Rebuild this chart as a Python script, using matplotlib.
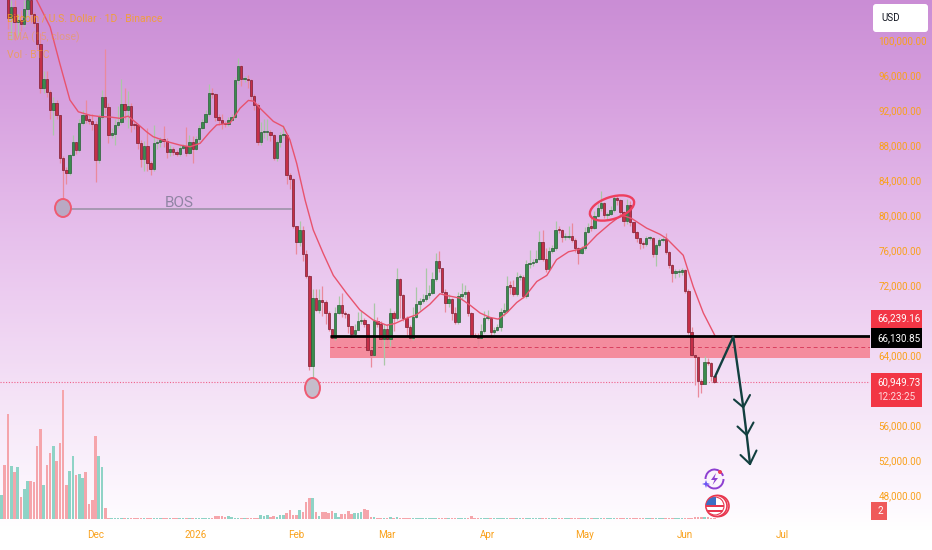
import matplotlib
matplotlib.use('Agg')
import matplotlib.pyplot as plt
import numpy as np
from matplotlib import font_manager
from matplotlib.lines import Line2D
from matplotlib.patches import Circle, Ellipse, FancyBboxPatch, Polygon, Rectangle, Arc
from matplotlib.transforms import Affine2D

# prices are in thousands of USD, days are counted from 1 Dec 2025
first_day = -29
first_open = 105.5

closes = [
    107.0, 106.0, 102.5, 103.8, 102.1, 102.3, 101.8, 103.5, 104.6, 103.0, 101.9, 99.6, 94.5, 95.5, 94.1, 92.0,
    92.85, 91.4, 86.5, 85.1, 84.8, 86.9, 88.3, 87.4, 90.5, 91.4, 90.9, 90.8, 90.4, 86.3, 91.2, 93.45,
    92.4, 89.2, 89.3, 90.3, 90.65, 92.7, 92.0, 92.5, 90.3, 90.25, 88.2, 86.4, 87.9, 86.0, 85.3, 88.2,
    88.4, 88.6, 88.5, 87.15, 87.6, 87.2, 87.0, 87.7, 87.9, 87.1, 88.4, 87.6, 88.65, 89.9, 90.65, 91.55,
    93.9, 93.8, 91.25, 90.9, 90.5, 90.4, 90.85, 91.25, 95.4, 97.0, 95.5, 95.6, 95.4, 93.6, 92.6, 88.3,
    89.45, 89.5, 89.5, 89.1, 86.55, 88.3, 89.15, 89.2, 84.6, 84.1, 78.7,
    76.95, 78.3, 75.6, 73.0, 62.75, 70.5, 69.2, 70.3, 70.1, 68.75, 67.0, 66.0, 68.75, 69.7, 68.75, 68.7,
    67.3, 66.35, 66.85, 67.9, 68.0, 67.5, 64.6, 64.0, 67.9, 67.6, 65.8, 66.95, 65.8, 68.85, 68.2, 72.7,
    70.9, 68.2, 67.25, 65.9, 68.4, 69.8, 70.2, 70.45, 70.85, 71.1, 72.7, 74.8, 73.9, 71.25, 69.9, 70.4,
    68.85, 67.8, 70.8, 71.0, 71.25, 68.75, 66.3, 66.1, 65.9, 66.7, 68.2, 68.2, 66.65, 66.85, 67.25, 68.95,
    69.0, 71.9, 71.8, 71.0, 72.9, 72.95, 70.8, 74.4, 74.5, 74.65, 75.0, 76.95, 75.0, 73.8, 75.9, 76.2,
    78.3, 78.25, 77.45, 77.5, 77.6, 77.15, 76.2, 75.7, 76.2, 78.1, 78.6, 78.55, 79.9, 80.85, 81.4, 80.0,
    80.1, 80.6, 82.0, 81.7, 80.4, 79.35, 81.15, 79.15, 78.1, 77.35, 76.85, 76.7, 77.35, 77.4, 75.5, 76.6,
    77.1, 77.25, 75.75, 74.3, 73.4, 73.45, 73.5, 73.7, 71.35, 66.65, 64.0, 63.8, 61.0, 60.7, 63.25, 63.05,
    61.6, 60.95,
]
highs = [
    107.5, 107.5, 106.0, 104.6, 104.6, 103.0, 103.4, 104.6, 105.0, 104.8, 103.2, 102.0, 100.8, 96.5, 96.5, 94.3,
    93.5, 93.2, 91.4, 86.7, 85.5, 87.0, 89.2, 88.3, 91.0, 92.0, 93.2, 91.6, 91.5, 90.8, 91.5, 94.3,
    99.0, 92.8, 90.0, 91.0, 92.5, 95.6, 94.5, 94.2, 92.8, 90.6, 90.3, 88.6, 88.5, 90.0, 86.2, 90.3,
    88.7, 88.9, 90.2, 88.8, 88.0, 87.8, 87.4, 88.0, 88.1, 90.1, 89.2, 89.0, 89.0, 90.3, 91.0, 92.0,
    95.0, 94.5, 93.9, 91.5, 91.5, 90.7, 91.2, 91.5, 95.8, 98.0, 97.2, 95.9, 96.0, 95.5, 93.8, 92.8,
    90.6, 91.0, 91.0, 89.7, 89.3, 88.6, 89.5, 90.3, 89.3, 84.8, 84.2,
    78.8, 79.3, 78.8, 76.0, 73.2, 71.5, 71.5, 71.6, 71.9, 70.3, 69.0, 67.0, 69.5, 70.8, 71.1, 69.0,
    68.8, 67.3, 67.5, 68.9, 69.0, 68.2, 67.6, 64.8, 70.0, 68.3, 67.9, 67.5, 67.5, 69.4, 69.0, 73.9,
    72.8, 71.0, 68.5, 67.4, 69.5, 71.8, 70.5, 71.0, 74.0, 72.0, 73.5, 75.7, 75.9, 74.0, 71.5, 71.0,
    70.5, 69.5, 71.2, 72.2, 72.0, 71.4, 68.9, 66.5, 66.5, 67.6, 69.0, 69.1, 68.4, 67.2, 67.6, 69.4,
    70.0, 73.0, 72.5, 72.6, 73.5, 73.3, 73.2, 74.9, 76.0, 75.0, 76.0, 78.2, 78.3, 76.2, 76.3, 76.6,
    79.3, 78.7, 78.4, 78.0, 78.7, 79.1, 77.4, 76.4, 76.5, 78.6, 79.1, 79.7, 80.5, 81.3, 82.8, 81.5,
    80.4, 81.0, 82.3, 82.2, 81.8, 80.5, 81.8, 81.6, 79.2, 78.2, 77.4, 77.0, 77.6, 77.6, 77.5, 76.8,
    77.4, 77.5, 78.0, 75.9, 74.4, 73.8, 73.8, 73.9, 73.8, 71.5, 67.2, 64.2, 63.9, 61.2, 63.9, 63.6,
    63.2, 61.5,
]
lows = [
    105.6, 105.5, 101.3, 100.0, 100.0, 100.5, 101.0, 101.5, 102.5, 102.0, 101.5, 99.0, 94.0, 94.0, 93.5, 91.0,
    89.1, 91.0, 86.0, 80.8, 83.6, 84.6, 86.8, 87.0, 87.2, 90.3, 90.5, 90.4, 89.7, 83.8, 86.0, 91.0,
    91.5, 88.2, 88.8, 88.0, 90.0, 90.4, 91.0, 90.0, 89.5, 89.8, 87.5, 85.5, 85.0, 85.0, 84.6, 85.0,
    87.6, 87.8, 87.8, 86.5, 86.8, 86.9, 86.7, 86.8, 87.5, 86.8, 87.0, 86.0, 87.4, 88.4, 89.8, 90.5,
    91.3, 93.4, 90.7, 90.3, 89.8, 90.1, 90.2, 90.7, 91.0, 95.0, 94.8, 95.2, 94.5, 93.2, 92.0, 88.0,
    88.0, 88.8, 88.6, 88.5, 86.3, 86.2, 87.8, 88.8, 83.5, 83.0, 78.5,
    75.6, 76.5, 74.7, 72.8, 62.3, 60.0, 69.0, 68.8, 68.5, 67.5, 66.8, 65.9, 65.7, 68.7, 68.3, 68.2,
    66.5, 66.0, 65.9, 67.0, 67.5, 67.2, 64.3, 62.6, 63.9, 67.2, 65.0, 62.9, 65.0, 65.0, 66.8, 68.0,
    68.2, 67.9, 66.2, 65.6, 65.7, 68.2, 69.2, 70.0, 70.2, 70.5, 71.0, 72.5, 73.5, 71.0, 68.9, 69.5,
    68.0, 67.5, 67.6, 70.3, 70.5, 68.5, 66.0, 65.8, 65.0, 65.9, 66.5, 68.0, 65.8, 66.4, 66.7, 66.8,
    68.5, 68.9, 71.0, 70.7, 70.8, 72.6, 70.5, 70.5, 74.0, 74.2, 74.5, 74.9, 74.7, 73.5, 73.7, 75.7,
    76.0, 77.9, 76.9, 77.2, 77.3, 76.9, 75.8, 74.4, 75.5, 76.0, 78.0, 78.2, 78.4, 79.8, 80.5, 79.7,
    79.5, 80.0, 80.4, 81.2, 80.0, 78.8, 79.0, 78.8, 77.9, 76.9, 76.1, 76.2, 76.5, 77.2, 75.2, 74.2,
    76.4, 76.9, 75.5, 74.0, 72.4, 72.8, 72.9, 73.2, 71.1, 66.4, 63.9, 60.6, 59.2, 59.6, 60.8, 62.8,
    61.0, 60.8,
]
volumes = [
    24, 54, 105, 53, 47, 52, 22, 30, 38, 38, 37, 73, 90, 34, 54, 66, 73, 58, 76, 129, 34, 48, 63, 44, 45, 41, 47,
    15, 19, 83, 63, 52, 11,
    1, 1, 1, 1, 1, 1, 1, 1, 1, 1, 1, 1, 1, 1, 1, 1, 1, 1, 1, 1, 1, 1, 1, 1, 1, 1, 1, 1, 1, 1, 1.5, 1.5, 1.5,
    3.5, 3, 3, 2, 3, 2, 1.5, 1, 1, 1, 1, 1, 1, 1.5,
    4.5, 3, 4, 2.5, 3.5, 2.5, 4, 4, 6, 9, 4.5, 4.5, 9, 7.5, 17, 21, 21,
    7, 3.5, 7, 7, 6, 8, 6, 2.5, 5, 5.5, 8, 5, 6, 6.5, 7, 10, 9, 2, 2,
    1, 1, 1, 1, 2, 1, 2, 1, 1, 1, 1, 1, 1, 1, 1, 1, 1, 1, 1, 1, 1, 1, 1, 1, 1, 1, 1, 1, 1, 3.5, 1, 1, 1, 1, 1,
    1, 1, 1, 1, 1, 1, 1, 1, 1, 1, 1, 1, 1, 1, 1, 1, 1, 1, 1, 1, 1, 1, 1, 1, 1, 1, 1, 1, 1, 1, 1, 1, 1, 1, 1, 1, 1, 1, 1,
    1, 1, 1, 1, 1, 1, 1, 1, 1, 1, 1, 1, 1, 1, 1, 1, 1, 1, 1, 1, 1, 1, 1, 1.5, 2, 2.5, 2.5, 2.5, 2, 1.5, 1.5,
]

ema_days = [
    -18.2, -14, -11, -7.9, -5.3, -1.7, 1.4, 4.5, 7.6, 10.1, 12.7, 15.8, 17.8, 22, 26, 29.2, 32.3, 35.3, 37.4, 41.5,
    44.6, 47.2, 48.9, 50.8, 54.9, 58, 60, 62.1, 64.7, 67.2, 70.3, 73.4, 77.5, 81.6, 85.7, 89.9, 92.4, 96, 99.1,
    103.2, 106.3, 108.4, 112.5, 115.6, 118.7, 121.7, 124.3, 126.9, 130, 132.6, 136.2, 139.3, 142.3, 146, 149.5,
    151.6, 154.7, 158.8, 162.4, 165.5, 170.1, 174.2, 176.3, 181.4, 184.5, 187.6, 191.2,
]
ema_values = [
    104.6, 101.5, 97.3, 93.15, 91.8, 91.4, 91.25, 91.2, 91.05, 91.3, 90.5, 89.5, 88.95, 88.4, 88.0, 87.8, 88.2, 89.5,
    90.3, 90.5, 92.2, 93.1, 93.0, 92.2, 90.7, 90.1, 88.6, 85.9, 81.7, 78.3, 75.6, 73.1, 71.05, 69.15, 68.0, 67.4,
    67.6, 68.2, 68.6, 69.8, 71.0, 70.8, 70.5, 69.7, 68.8, 68.3, 68.1, 68.8, 70.0, 70.7, 72.4, 73.1, 74.9, 75.8, 76.1,
    76.5, 77.7, 79.0, 80.0, 79.6, 78.5, 77.8, 77.3, 75.4, 71.8, 68.8, 66.2,
]

price_ticks = [100, 96, 92, 88, 84, 80, 76, 72, 64, 56, 52, 48]
time_ticks = [0, 31, 62, 90, 121, 151, 182, 212]
time_labels = ['Dec', '2026', 'Feb', 'Mar', 'Apr', 'May', 'Jun', 'Jul']

zone_top = 66.13085
zone_bottom = 63.7
zone_mid = 64.88
zone_start = 72.5
last_price = 60.94973

# narrow face is closest to the chart's text, fall back to a smaller Roboto
installed = {f.name for f in font_manager.fontManager.ttflist}
if 'Liberation Sans Narrow' in installed:
    TEXT_FONT, TEXT_SIZE, LEGEND_SIZE = 'Liberation Sans Narrow', 8.3, 9.2
else:
    TEXT_FONT, TEXT_SIZE, LEGEND_SIZE = 'Roboto', 7.1, 7.5
plt.rcParams['font.family'] = [TEXT_FONT, 'DejaVu Sans']

ORANGE = '#f9a11b'
RED = '#c52f47'
GREEN = '#3a8c4d'

fig = plt.figure(figsize=(9.32, 5.5), dpi=100)
W, H = 932.0, 550.0
px = Affine2D().scale(1, -1).translate(0, H)

# vertical background gradient, pink-purple fading to white
bg = fig.add_axes([0, 0, 1, 1], zorder=0)
bg.axis('off')
stops_y = np.array([0, 100, 200, 300, 400, 500, 530, 550])
stops_rgb = np.array([
    [202, 141, 213], [215, 161, 223], [227, 184, 233], [237, 206, 241],
    [245, 228, 247], [253, 248, 254], [255, 255, 255], [255, 255, 255],
]) / 255.0
rows = np.arange(550)
grad = np.stack([np.interp(rows, stops_y, stops_rgb[:, i]) for i in range(3)], axis=1)[:, None, :]
bg.imshow(grad, aspect='auto', extent=(0, 1, 0, 1))

rect = [0, (H - 519) / H, 870 / W, 519 / H]
ax = fig.add_axes(rect, zorder=2)
ax.patch.set_alpha(0)
x_left = (0 - 95.5) / 3.24
x_right = (870 - 95.5) / 3.24
ax.set_xlim(x_left, x_right)
ax.set_ylim(64 - 164 * 0.1143, 64 + 355 * 0.1143)

# volume pane shares the x scale, heights stay at the bottom
ax_vol = fig.add_axes(rect, zorder=1)
ax_vol.patch.set_alpha(0)
ax_vol.axis('off')
ax_vol.set_xlim(x_left, x_right)
ax_vol.set_ylim(0, 519)

closes_arr = np.array(closes)
opens = np.r_[first_open, closes_arr[:-1]]
days = first_day + np.arange(len(closes))
up = closes_arr >= opens

ax_vol.bar(days, volumes, width=0.8, color=np.where(up, '#8fd3c6', '#f5a5ab'), linewidth=0)

ax.add_patch(Rectangle((zone_start, zone_bottom), x_right - zone_start, zone_top - zone_bottom,
                       facecolor='#f48c9e', edgecolor='none', zorder=1))
ax.hlines(zone_mid, zone_start, x_right, color='#d9405f', lw=0.7, ls=(0, (4, 3)), zorder=1.5)
ax.hlines(last_price, x_left, x_right, color='#f0608a', lw=0.8, ls=(0, (1, 1.5)), zorder=1.5)

ax.vlines(days, lows, highs, colors=np.where(up, '#a9c7a6', '#ea8a9c'), lw=0.9, zorder=2)
bottoms = np.minimum(opens, closes_arr)
heights = np.maximum(np.abs(closes_arr - opens), 0.15)
ax.bar(days, heights, bottom=bottoms, width=0.72, color=np.where(up, GREEN, RED),
       edgecolor=np.where(up, '#2a5f38', '#7c1f33'), linewidth=0.5, zorder=3)

ax.plot(ema_days, ema_values, color='#e8536e', lw=1.0, zorder=4)
ax.hlines(zone_top, zone_start, x_right, color='black', lw=2.0, zorder=5)

# axis text
ax.yaxis.tick_right()
ax.set_yticks(price_ticks)
ax.set_yticklabels([f'{t * 1000:,.2f}' for t in price_ticks], fontsize=TEXT_SIZE, color=ORANGE)
ax.set_xticks(time_ticks)
ax.set_xticklabels(time_labels, fontsize=TEXT_SIZE, color=ORANGE)
ax.tick_params(axis='y', length=0, pad=6)
ax.tick_params(axis='x', length=0, pad=8)
for s in ax.spines.values():
    s.set_visible(False)

# legend block
fig.text(7 / W, 1 - 18 / H, 'Bitcoin / U.S. Dollar · 1D · Binance', fontsize=LEGEND_SIZE, color=ORANGE, alpha=0.8,
         va='center', zorder=6)
fig.text(7 / W, 1 - 37 / H, 'EMA (15, close)', fontsize=LEGEND_SIZE, color=ORANGE, alpha=0.45, va='center', zorder=6)
fig.text(7 / W, 1 - 55 / H, 'Vol · BTC', fontsize=LEGEND_SIZE, color=ORANGE, alpha=0.6, va='center', zorder=6)


def draw(artist):
    artist.set_zorder(6)
    fig.add_artist(artist)


def line(xs, ys, color, lw):
    draw(Line2D(xs, ys, color=color, lw=lw, transform=px, solid_capstyle='round', solid_joinstyle='round'))


# drawings on the chart
line([63, 291], [209, 209], '#a296ae', 1.3)
fig.text(179 / W, 1 - 203 / H, 'BOS', fontsize=11, color='#8f84a3', ha='center', va='center', zorder=6)
draw(Ellipse((63, 208), 16, 18, facecolor='#b9a9c4', edgecolor='#ef5b73', lw=1.4, transform=px))
draw(Ellipse((312.5, 388), 15, 20, facecolor='#c5bccb', edgecolor='#ef5b73', lw=1.4, transform=px))
draw(Ellipse((612, 208), 46, 22, angle=-18, facecolor='none', edgecolor='#ee3f5f', lw=1.7, transform=px))

DARK = '#123f3f'
line([715, 733.3, 743.3, 746.7, 750], [376.7, 336.7, 407.3, 435, 464], DARK, 1.7)
line([734, 743.3, 750], [399.5, 407.3, 395], DARK, 1.5)
line([737.5, 746.7, 753.5], [426.5, 435, 422.5], DARK, 1.5)
line([740.5, 750, 756.5], [455, 464, 450.5], DARK, 1.5)

# price tags and controls
draw(Rectangle((871, 309.5), 51, 18.5, facecolor='#f23645', edgecolor='none', transform=px))
draw(Rectangle((871, 328), 51, 19.5, facecolor='#000000', edgecolor='none', transform=px))
draw(Rectangle((871, 373), 51, 34, facecolor='#f23645', edgecolor='none', transform=px))
draw(Rectangle((871, 502), 16, 18, facecolor='#ef5a5a', edgecolor='none', transform=px))
draw(FancyBboxPatch((873, 4), 55, 28, boxstyle='round,pad=0,rounding_size=3', facecolor='white', edgecolor='none',
                    transform=px))
tags = [
    (877, 318.5, '66,239.16', 'white'), (877, 338, '66,130.85', 'white'),
    (877, 382, '60,949.73', 'white'), (877, 397.5, '12:23:25', '#ffd9dc'),
    (877, 511, '2', 'white'), (881, 18, 'USD', '#131722'),
]
for tx, ty, s, c in tags:
    fig.text(tx / W, 1 - ty / H, s, color=c, fontsize=TEXT_SIZE, va='center', zorder=7)

# small icons at the last bar
PURPLE = '#8d3fd1'
draw(Arc((714.5, 479), 18, 19, theta1=0, theta2=140, color=PURPLE, lw=1.4, transform=px))
draw(Arc((714.5, 479), 18, 19, theta1=180, theta2=340, color=PURPLE, lw=1.4, transform=px))
draw(Polygon([(716, 473), (711, 480), (714.5, 480), (712.5, 485), (718, 478), (714.5, 478)], facecolor=PURPLE,
             edgecolor='none', transform=px))
draw(Polygon([(706, 480), (707, 483), (710, 484), (707, 485), (706, 488), (705, 485), (702, 484), (705, 483)],
             facecolor='#6a55f5', edgecolor='none', transform=px))
draw(Circle((720, 472), 2, facecolor='#ef3d55', edgecolor='none', transform=px))

for cx in (718.5, 716.5):
    draw(Circle((cx, 506), 10.5, facecolor='white', edgecolor='#e8374f', lw=1.2, transform=px))
flag = Circle((715, 506), 9, facecolor='white', edgecolor='#e8374f', lw=0.8, transform=px)
draw(flag)
flag_parts = [
    Rectangle((705, 504.5), 20, 2.5, facecolor='#e8374f', edgecolor='none', transform=px),
    Rectangle((705, 509.5), 20, 2.5, facecolor='#e8374f', edgecolor='none', transform=px),
    Rectangle((705, 497), 11, 8, facecolor='#3d6fc4', edgecolor='none', transform=px),
]
for part in flag_parts:
    part.set_clip_path(flag)
    draw(part)

fig.savefig('out.png', dpi=100)
plt.close(fig)
